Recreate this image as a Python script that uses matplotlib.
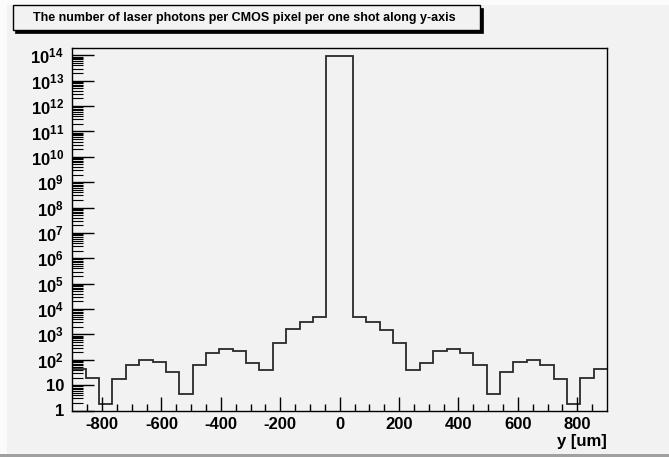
import numpy as np
import matplotlib
matplotlib.use("Agg")
import matplotlib.pyplot as plt
from matplotlib.patches import Rectangle
from matplotlib.ticker import FixedLocator, NullFormatter

plt.rcParams['font.family'] = ['Liberation Sans', 'DejaVu Sans']
plt.rcParams['font.weight'] = 'bold'
plt.rcParams['mathtext.fontset'] = 'custom'
plt.rcParams['mathtext.rm'] = 'Liberation Sans:bold'
plt.rcParams['mathtext.bf'] = 'Liberation Sans:bold'
plt.rcParams['mathtext.it'] = 'Liberation Sans:bold'

# histogram: 40 bins of 45 um from -900 to 900
bin_edges = np.arange(-900, 901, 45)
photons = [43, 19.7, 1.8, 17.5, 62, 95, 80, 32, 4.4, 62,
           190, 273, 228, 75, 38, 470, 1590, 3170, 4900,
           0.98e14, 0.98e14,
           4760, 3170, 1540, 460, 38, 75, 228, 273, 190, 61,
           4.4, 32, 82, 95, 62, 17.5, 1.8, 19, 43]
xticks = [-800, -600, -400, -200, 0, 200, 400, 600, 800]
decades = list(range(0, 15))
title = "The number of laser photons per CMOS pixel per one shot along y-axis"
xlabel = "y [um]"

bg = '#f2f2f2'
W, H = 669, 457
fig = plt.figure(figsize=(W / 100, H / 100), dpi=100, facecolor=bg)

# canvas bevel
fig.patches.append(Rectangle((0, (H - 5) / H), 1, 5 / H, transform=fig.transFigure,
                             facecolor='#fbfbfb', edgecolor='none', zorder=0))
fig.patches.append(Rectangle((0, 0), 7 / W, 1, transform=fig.transFigure,
                             facecolor='#fbfbfb', edgecolor='none', zorder=0))
fig.patches.append(Rectangle((0, 0), 1, 3 / H, transform=fig.transFigure,
                             facecolor='#a0a0a0', edgecolor='none', zorder=0))

ax = fig.add_axes([72.3 / W, (H - 410.5) / H, (607 - 72.3) / W, (410.5 - 48.3) / H])
ax.set_facecolor(bg)
ax.stairs(photons, bin_edges, baseline=None, color='#2a2a2a', lw=1.3)
ax.set_yscale('log')
ax.set_xlim(-900, 900)
ax.set_ylim(1, 10 ** 14.28)

ax.set_xticks(xticks)
ax.set_xticklabels([str(v) for v in xticks], fontsize=12, fontweight='bold')
ax.xaxis.set_minor_locator(FixedLocator(np.arange(-850, 900, 50)))
ax.tick_params(axis='x', which='major', direction='in', length=10, width=1, pad=5)
ax.tick_params(axis='x', which='minor', direction='in', length=5, width=1)

ylabels = []
for d in decades:
    if d == 0:
        ylabels.append('1')
    elif d == 1:
        ylabels.append('10')
    else:
        ylabels.append('$10^{%d}$' % d)
ax.yaxis.set_major_locator(FixedLocator([10.0 ** d for d in decades]))
ax.set_yticklabels(ylabels, fontsize=12)
minors = [m * 10.0 ** d for d in decades for m in range(2, 10)]
ax.yaxis.set_minor_locator(FixedLocator(minors))
ax.yaxis.set_minor_formatter(NullFormatter())
ax.tick_params(axis='y', which='major', direction='in', length=16, width=1, pad=6)
ax.tick_params(axis='y', which='minor', direction='in', length=8, width=0.8)

for s in ax.spines.values():
    s.set_linewidth(1)
    s.set_color('black')

ax.set_xlabel(xlabel, fontsize=12, fontweight='bold', loc='right', labelpad=1)

# title box with shadow
x0, y0, x1, y1 = 12.5, 5, 480, 30
fig.patches.append(Rectangle(((x0 + 2.5) / W, (H - y1 - 2.5) / H), (x1 - x0) / W, (y1 - y0) / H,
                             transform=fig.transFigure, facecolor='black',
                             edgecolor='black', lw=0.5, zorder=3))
fig.patches.append(Rectangle((x0 / W, (H - y1) / H), (x1 - x0) / W, (y1 - y0) / H,
                             transform=fig.transFigure, facecolor=bg,
                             edgecolor='black', lw=1, zorder=4))
fig.text((x0 + x1) / 2 / W - 2 / W, (H - (y0 + y1) / 2) / H, title, ha='center', va='center',
         fontsize=9, fontweight='bold', zorder=5)

fig.savefig('out.png', dpi=100, facecolor=bg)
